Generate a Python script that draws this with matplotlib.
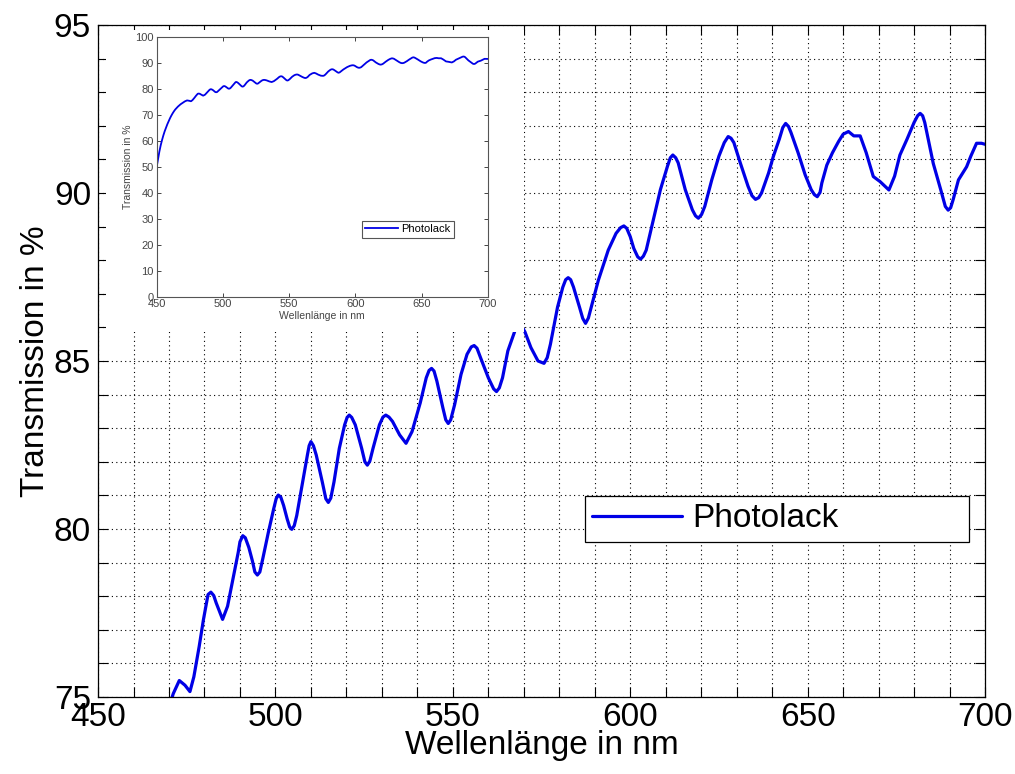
import matplotlib.pyplot as plt
from matplotlib.patches import Rectangle
from matplotlib.ticker import MultipleLocator

# values (nm, %), 10 per row in both lists
wavelength = [
    450, 451, 452, 453, 454, 455, 456, 457, 458, 459,
    460, 461, 462, 463, 464, 466, 468, 470, 471.2, 472.9,
    474.5, 475.9, 477, 478.5, 479.7, 481.0, 481.8, 482.6, 483.3, 485.1,
    486.5, 488, 489.5, 490.0, 490.8, 491.5, 492.5, 493.5, 494.2, 494.9,
    495.6, 496.5, 498, 499.5, 500.2, 500.8, 501.5, 502.3, 503.3, 504.0,
    504.6, 505.3, 506, 507.5, 509, 509.5, 510.0, 510.7, 511.5, 513.2,
    514.2, 514.9, 515.6, 516.5, 518, 519.5, 520.2, 520.8, 521.5, 522.5,
    524.3, 525.2, 525.9, 526.6, 527.5, 529.3, 530.3, 531.1, 532, 533,
    535, 536.8, 538.5, 540.8, 542.5, 543.3, 544.0, 544.7, 545.5, 547.2,
    548.0, 548.7, 549.4, 550.5, 552.3, 554, 555.2, 556.0, 556.8, 557.8,
    560, 561.5, 562.3, 563.1, 564, 565.5, 567.5, 569, 570.3, 572,
    574, 575.7, 576.6, 577.5, 579.5, 581, 581.8, 582.5, 583.2, 584,
    585.7, 586.6, 587.4, 588.2, 589, 591, 593.8, 596, 597.3, 598.2,
    599.0, 600, 601, 602.1, 602.9, 603.7, 604.5, 606.5, 608.5, 610.5,
    611.3, 612.0, 612.8, 613.5, 615.5, 617.5, 618.4, 619.2, 620.1, 621,
    623, 625, 626.5, 627.6, 628.4, 629.2, 631, 633.2, 634.3, 635.3,
    636.2, 637, 639, 640.3, 642, 643.0, 643.8, 644.6, 645.3, 647.3,
    649.3, 651, 651.9, 652.7, 653.5, 654, 655.4, 657, 658.7, 660,
    661.5, 663, 664.8, 666.5, 668.5, 670.4, 672.9, 674.5, 676.0, 678,
    680, 681.0, 681.7, 682.4, 683, 685.4, 687.5, 688.8, 689.6, 690.3,
    691, 692.5, 694.8, 696, 697.6, 699, 700,
]
transmission = [
    50.0, 53.0, 55.8, 58.2, 60.2, 62.0, 63.6, 65.0, 66.3, 67.5,
    68.6, 69.6, 70.5, 71.3, 72.0, 73.1, 74.0, 74.7, 75.1, 75.49,
    75.35, 75.16, 75.6, 76.5, 77.3, 78.05, 78.12, 78.02, 77.8, 77.31,
    77.7, 78.5, 79.3, 79.62, 79.80, 79.74, 79.45, 79.05, 78.72, 78.63,
    78.72, 79.15, 79.9, 80.6, 80.9, 81.01, 80.95, 80.7, 80.3, 80.06,
    79.99, 80.1, 80.4, 81.3, 82.2, 82.48, 82.60, 82.48, 82.2, 81.4,
    80.9, 80.79, 80.92, 81.4, 82.4, 83.1, 83.32, 83.39, 83.32, 83.1,
    82.4, 82.0, 81.90, 82.02, 82.4, 83.1, 83.33, 83.39, 83.33, 83.2,
    82.8, 82.55, 82.9, 83.75, 84.5, 84.72, 84.78, 84.7, 84.4, 83.6,
    83.25, 83.14, 83.25, 83.7, 84.6, 85.2, 85.42, 85.46, 85.38, 85.1,
    84.5, 84.17, 84.09, 84.2, 84.5, 85.3, 85.9, 86.1, 85.87, 85.4,
    85.0, 84.93, 85.1, 85.5, 86.6, 87.2, 87.42, 87.48, 87.42, 87.2,
    86.6, 86.27, 86.12, 86.28, 86.6, 87.4, 88.30, 88.8, 88.97, 89.02,
    88.95, 88.7, 88.35, 88.1, 88.03, 88.12, 88.3, 89.2, 90.1, 90.8,
    91.05, 91.13, 91.05, 90.9, 90.1, 89.5, 89.32, 89.25, 89.36, 89.6,
    90.4, 91.1, 91.5, 91.68, 91.63, 91.5, 90.9, 90.2, 89.92, 89.81,
    89.86, 90.0, 90.6, 91.08, 91.6, 91.95, 92.07, 91.98, 91.8, 91.2,
    90.54, 90.1, 89.95, 89.89, 90.02, 90.3, 90.83, 91.2, 91.53, 91.75,
    91.83, 91.7, 91.70, 91.2, 90.49, 90.34, 90.09, 90.5, 91.13, 91.6,
    92.1, 92.3, 92.37, 92.3, 92.1, 90.88, 90.1, 89.6, 89.49, 89.56,
    89.8, 90.39, 90.78, 91.1, 91.48, 91.48, 91.45,
]
assert len(wavelength) == len(transmission)
series_label = 'Photolack'
x_label = 'Wellenlänge in nm'
y_label = 'Transmission in %'

plt.rcParams['font.family'] = ['Liberation Sans', 'DejaVu Sans']
line_color = '#0000e6'

fig = plt.figure(figsize=(10.15, 7.74), dpi=100)

# main plot
ax = fig.add_axes([0.0966, 0.0995, 0.8739, 0.8682])
ax.plot(wavelength, transmission, color=line_color, lw=2.3, label=series_label,
        solid_joinstyle='round', solid_capstyle='round')
ax.set_xlim(450, 700)
ax.set_ylim(75, 95)
ax.xaxis.set_major_locator(MultipleLocator(50))
ax.xaxis.set_minor_locator(MultipleLocator(10))
ax.yaxis.set_major_locator(MultipleLocator(5))
ax.yaxis.set_minor_locator(MultipleLocator(1))
ax.grid(which='both', color='black', linestyle=(0, (1, 3)), linewidth=0.8)
ax.tick_params(which='both', direction='in', top=True, right=True,
               length=7, width=0.8, labelsize=24)
ax.tick_params(axis='x', pad=3.5)
ax.tick_params(axis='y', pad=5)
for sp in ax.spines.values():
    sp.set_linewidth(0.9)
ax.set_xlabel(x_label, fontsize=24, labelpad=-2)
ax.set_ylabel(y_label, fontsize=24, labelpad=2)
leg = ax.legend(loc='lower left', bbox_to_anchor=(0.549, 0.231, 0.433, 0.074),
                mode='expand', fontsize=24, fancybox=False, framealpha=1,
                edgecolor='black', handlelength=2.7, handletextpad=0.3,
                borderaxespad=0, borderpad=0.22)
leg.get_frame().set_linewidth(0.9)

# white patch behind the inset
fig.patches.append(Rectangle((106 / 1015, 1 - 332 / 774), 418 / 1015, 302 / 774,
                             transform=fig.transFigure, facecolor='white',
                             edgecolor='none', zorder=1))

# inset with the full range
axin = fig.add_axes([0.1544, 0.6167, 0.3261, 0.3359], zorder=2)
axin.plot(wavelength, transmission, color=line_color, lw=1.3, label=series_label,
          solid_joinstyle='round')
axin.set_xlim(450, 700)
axin.set_ylim(0, 100)
axin.xaxis.set_major_locator(MultipleLocator(50))
axin.yaxis.set_major_locator(MultipleLocator(10))
axin.tick_params(direction='in', top=True, right=True, length=3, width=0.7,
                 labelsize=8, colors='#444444', pad=2)
for sp in axin.spines.values():
    sp.set_color('#555555')
    sp.set_linewidth(0.8)
axin.set_xlabel(x_label, fontsize=7.5, color='#444444', labelpad=1)
axin.set_ylabel(y_label, fontsize=7.5, color='#444444', labelpad=2)
leg2 = axin.legend(loc='lower left', bbox_to_anchor=(0.619, 0.227), fontsize=8,
                   fancybox=False, framealpha=1, edgecolor='#555555',
                   handlelength=3.0, handletextpad=0.3, borderaxespad=0,
                   borderpad=0.3)
leg2.get_frame().set_linewidth(0.8)

fig.savefig('out.png', dpi=100)
